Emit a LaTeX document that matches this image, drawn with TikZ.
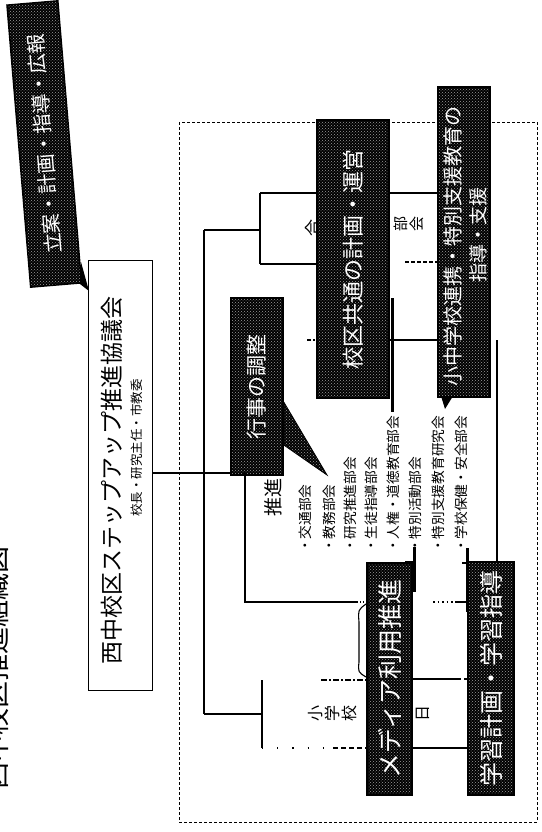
\documentclass[tikz,border=0pt]{standalone}
\usepackage{fontspec}
\setmainfont{Noto Sans CJK JP}
\usetikzlibrary{patterns}
\begin{document}
\begin{tikzpicture}[x=1pt,y=-1pt,
  darkfill/.style={preaction={fill=black}, pattern=crosshatch dots, pattern color=white!62!black},
  darkbox/.style={draw=black, line width=1.5pt, darkfill, text=white, rotate=90, inner sep=0pt},
  whitebox/.style={draw=black, line width=1pt, fill=white, rotate=90, inner sep=0pt},
  rot/.style={rotate=90, inner sep=0pt},
  listtext/.style={rot, anchor=west, font=\fontsize{13.7}{13.7}\selectfont},
  conn/.style={line width=1.1pt},
  main/.style={line width=2pt},
  framestyle/.style={dash pattern=on 3pt off 2pt, line width=0.9pt},
  callbar/.style={line width=3pt}
]
\useasboundingbox (0,0) rectangle (541,832);
\clip (0,0) rectangle (541,832);

% title (cut at the left edge, as in the reference)
\node[rot, font=\fontsize{27}{27}\selectfont] (T) at (-4,668) {西中校区推進組織図};

% dashed frame
\draw[framestyle] (179,122) rectangle (537,822);

% coordinates
\coordinate (j1) at (204,473);
\coordinate (ttop) at (204,230);
\coordinate (tbot) at (204,714);
\coordinate (bFm) at (260,230);
\coordinate (bFt) at (260,193);
\coordinate (bFb) at (260,264);
\coordinate (bHm) at (262,714);
\coordinate (bHt) at (262,680);
\coordinate (bHb) at (262,748);
\coordinate (hl1) at (321,680);
\coordinate (hl2) at (333,748);
\coordinate (dj) at (245,473);
\coordinate (dk) at (245,602);
\coordinate (hk) at (357,602);
\coordinate (fg2) at (405,262);
\coordinate (fl3) at (307,340);
\coordinate (gi) at (497,340);
\coordinate (hi1) at (458,679);
\coordinate (hi3a) at (433,602);
\coordinate (hi3b) at (455,602);

% small labels behind boxes
\node[rot, font=\fontsize{17}{17}\selectfont] (L1) at (313,228) {合};
\node[rot, align=center, font=\fontsize{15}{16}\selectfont] (L2) at (409,224) {部\\会};
\node[rot, align=center, font=\fontsize{16}{17}\selectfont] (L3) at (333,713) {小\\学\\校};
\node[rot, font=\fontsize{16}{16}\selectfont] (L4) at (423,713) {日};
\node[rot, font=\fontsize{19}{19}\selectfont] (P) at (273,497) {推進};

% boxes
\node[whitebox, minimum width=430pt, minimum height=64pt] (B) at (120,475) {};
\node[rot, font=\fontsize{23}{23}\selectfont] (B1) at (112,480) {西中校区ステップアップ推進協議会};
\node[rot, font=\fontsize{12.5}{12.5}\selectfont] (B2) at (137,448) {校長・研究主任・市教委};

\node[darkbox, minimum width=177pt, minimum height=52pt, font=\fontsize{21}{21}\selectfont] (D) at (257,386.5) {行事の調整};
\node[darkbox, minimum width=278pt, minimum height=72pt, font=\fontsize{22}{22}\selectfont] (F) at (353,259) {校区共通の計画・運営};
\node[darkbox, minimum width=310pt, minimum height=52pt] (G) at (464,242) {};
\node[rot, text=white, font=\fontsize{20}{20}\selectfont] (G1) at (453,246) {小中学校連携・特別支援教育の};
\node[rot, text=white, anchor=east, font=\fontsize{19}{19}\selectfont] (G2) at (478,187) {指導・支援};
\node[darkbox, minimum width=232pt, minimum height=45pt, font=\fontsize{25}{25}\selectfont] (H) at (389.5,679) {メディア利用推進};
\node[darkbox, minimum width=233pt, minimum height=46pt, font=\fontsize{24}{24}\selectfont] (I) at (491,678.5) {学習計画・学習指導};

\node[draw=black, line width=1.5pt, darkfill, text=white, rotate=94.8, inner sep=0pt,
      minimum width=283pt, minimum height=51pt, font=\fontsize{20}{20}\selectfont] (A) at (44.25,144) {立案・計画・指導・広報};
\path[fill=black] (81,262) -- (89,291) -- (80,284) -- cycle;

% list
\node[listtext] (l1) at (305,553) {・交通部会};
\node[listtext] (l2) at (329,553) {・教務部会};
\node[listtext] (l3) at (350,553) {・研究推進部会};
\node[listtext] (l4) at (371,553) {・生徒指導部会};
\node[listtext] (l5) at (393,553) {・人権・道徳教育部会};
\node[listtext] (l6) at (415,553) {・特別活動部会};
\node[listtext] (l7) at (438,553) {・特別支援教育研究会};
\node[listtext] (l8) at (461,553) {・学校保健・安全部会};

% callouts
\path[darkfill, draw=black, line width=0.8pt] (D.south |- 0,402) -- (327,475) -- (D.south |- 0,445) -- cycle;
\draw[callbar] (392,298) -- (392,412);
\fill (441,396) -- (453,396) -- (445,409) -- cycle;
\draw[callbar] (414.5,547) -- (414.5,592);
\draw[line width=1.2pt] (405,562) -- (414.5,562);
\draw[callbar] (467,548) -- (467,612);
\draw[line width=1.2pt] (462,563) -- (467,563);

% connectors
\draw[main] (B.south |- j1) -- (D.north |- j1);
\draw[main] (ttop) -- (tbot);
\draw[conn] (ttop) -- (bFm);
\draw[conn] (bFt) -- (bFb);
\draw[conn] (bFt) -- (F.north |- bFt);
\draw[conn] (bFb) -- (F.north |- bFb);
\draw[main] (tbot) -- (bHm);
\draw[line width=1.5pt] (bHt) -- (bHb);
\draw[conn, dash pattern=on 6pt off 2pt on 2pt off 2pt] (hl1) -- (H.north |- hl1);
\draw[conn, dash pattern=on 1.2pt off 14pt] (bHb) -- (hl2);
\draw[conn, dash pattern=on 5pt off 3pt] (hl2) -- (H.north |- hl2);
\draw[conn] (dj) -- (dk) -- (hk);
\draw[conn, dotted] (hk) -- (H.north |- hk);
\draw[conn] (H.south |- hi1) -- (hi1);
\draw[conn, dashed] (hi1) -- (I.north |- hi1);
\draw[conn] (H.south |- 0,748) -- (I.north |- 0,748);
\draw[conn, dash pattern=on 1.5pt off 3pt] (hi3a) -- (hi3b);
\draw[conn] (hi3b) -- (I.north |- hi3b);
\draw[conn] (F.south |- 0,193) -- (G.north |- 0,193);
\draw[conn, dash pattern=on 4pt off 2pt] (fg2) -- (G.north |- fg2);
\draw[conn] (F.south |- 0,340) -- (G.north |- 0,340);
\draw[conn, dash pattern=on 4pt off 2pt on 1.5pt off 2pt] (fl3) -- (F.north |- fl3);
\draw[conn] (gi) -- (gi |- I.east);
% brace left of H
\draw[conn] (366,604) .. controls (358,610) .. (359,622) -- (359,662) .. controls (358,672) .. (366,677);
\end{tikzpicture}
\end{document}
